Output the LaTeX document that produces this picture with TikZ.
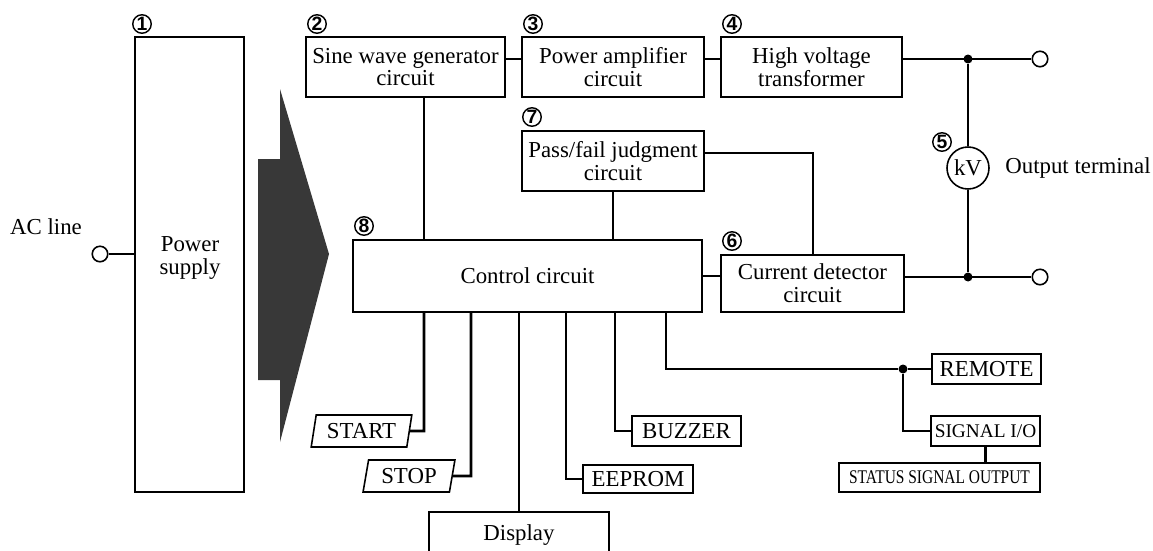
\documentclass[tikz,border=0pt]{standalone}
\usepackage{fontspec}
\setmainfont{Liberation Serif}
\newfontfamily\tagfont{Liberation Sans}
\usepackage{graphicx}
\usetikzlibrary{shapes.geometric, calc}
\tikzset{
  blockbox/.style={
    rectangle, draw=black, line width=0.9pt, fill=white,
    align=center, inner sep=1pt,
    font=\fontsize{13}{13}\selectfont
  },
  keybox/.style={
    trapezium, trapezium left angle=78, trapezium right angle=102,
    trapezium stretches=true, minimum height=0.64cm,
    draw=black, line width=0.9pt, fill=white, inner sep=1pt,
    font=\fontsize{13}{13}\selectfont
  },
  plainlabel/.style={font=\fontsize{13}{13}\selectfont, align=center, inner sep=0pt},
  numtag/.style={circle, draw=black, line width=0.8pt, inner sep=0pt,
    minimum size=0.37cm, font=\tagfont\bfseries\fontsize{11}{11}\selectfont},
  wire/.style={line width=1.5pt},
  jdot/.style={circle, fill=black, inner sep=0pt, minimum size=0.18cm},
  termcirc/.style={circle, draw=black, fill=white, line width=0.9pt,
    inner sep=0pt, minimum size=0.31cm}
}
\begin{document}
\begin{tikzpicture}[x=0.02cm, y=-0.02cm]
  \useasboundingbox (0,0) rectangle (1153,551);

  %% --- power input ---
  \node[blockbox, minimum width=2.18cm, minimum height=9.1cm] (psu) at (189.5,264.5) {};
  \node[plainlabel] (psutext) at (190,258) {Power\\supply};
  \node[termcirc] (acin) at (100,254) {};
  \node[plainlabel] (aclabel) at (46,227) {AC line};
  \fill[black!78] (280,89) -- (329,254) -- (280,442) -- (280,380)
    -- (258,380) -- (258,159) -- (280,159) -- cycle;

  %% --- top row ---
  \node[blockbox, minimum width=3.98cm, minimum height=1.2cm] (sine) at (405.5,67)
    {Sine wave generator\\circuit};
  \node[blockbox, minimum width=3.64cm, minimum height=1.2cm] (amp) at (613,67)
    {Power amplifier\\circuit};
  \node[blockbox, minimum width=3.62cm, minimum height=1.2cm] (hvt) at (811.5,67)
    {High voltage\\transformer};

  %% --- middle ---
  \node[blockbox, minimum width=3.64cm, minimum height=1.2cm] (judge) at (613,161)
    {Pass/fail judgment\\circuit};
  \node[blockbox, minimum width=6.98cm, minimum height=1.44cm] (ctrl) at (527.5,276)
    {Control circuit};
  \node[blockbox, minimum width=3.66cm, minimum height=1.14cm] (curr) at (812.5,283.5)
    {Current detector\\circuit};

  %% --- output side ---
  \node[jdot] (jtop) at (968,59) {};
  \node[jdot] (jbot) at (968,277) {};
  \node[termcirc] (outA) at (1040,59) {};
  \node[termcirc] (outB) at (1040,277) {};
  \node[circle, draw=black, line width=0.9pt, inner sep=0pt, minimum size=0.84cm,
    font=\fontsize{13}{13}\selectfont] (kv) at (968,168) {kV};
  \node[plainlabel, anchor=west] (outlabel) at (1005,168) {Output terminal};

  %% --- peripherals ---
  \node[keybox, minimum width=2.02cm] (start) at (361.5,431) {START};
  \node[keybox, minimum width=1.84cm] (stop) at (409,476) {STOP};
  \node[blockbox, minimum width=3.6cm, minimum height=0.92cm] (display) at (519,535) {Display};
  \node[blockbox, minimum width=2.2cm, minimum height=0.56cm] (eeprom) at (638,479) {EEPROM};
  \node[blockbox, minimum width=2.18cm, minimum height=0.6cm] (buzzer) at (686.5,431) {BUZZER};
  \node[blockbox, minimum width=2.18cm, minimum height=0.6cm] (remote) at (986.5,369) {REMOTE};
  \node[blockbox, minimum width=2.18cm, minimum height=0.6cm,
    font=\fontsize{11}{11}\selectfont] (sigio) at (985.5,431) {SIGNAL I/O};
  \node[blockbox, minimum width=4.02cm, minimum height=0.58cm,
    font=\fontsize{11}{11}\selectfont] (status) at (939.5,477.5)
    {\scalebox{0.8}[1]{STATUS SIGNAL OUTPUT}};
  \node[jdot] (jrem) at (903,369) {};

  %% --- circled numbers ---
  \node[numtag] (n1) at (142,24) {1};
  \node[numtag] (n2) at (317,24) {2};
  \node[numtag] (n3) at (533,24) {3};
  \node[numtag] (n4) at (732,24) {4};
  \node[numtag] (n5) at (942,142) {5};
  \node[numtag] (n6) at (732,241) {6};
  \node[numtag] (n7) at (532,117) {7};
  \node[numtag] (n8) at (364,226) {8};

  %% --- bend points ---
  \coordinate (kStart) at (424,431);
  \coordinate (kStop) at (471,476);
  \coordinate (kEep) at (566,479);
  \coordinate (kBuz) at (615,431);
  \coordinate (kRem) at (666,369);
  \coordinate (kSig) at (903,431);
  \coordinate (kJud) at (813,153);

  %% --- wires ---
  \draw[wire] (acin) -- (acin -| psu.west);
  \draw[wire] (jtop -| sine.east) -- (jtop -| amp.west);
  \draw[wire] (jtop -| amp.east) -- (jtop -| hvt.west);
  \draw[wire] (jtop -| hvt.east) -- (outA);
  \draw[wire] (jtop) -- (kv) -- (jbot);
  \draw[wire] (jbot -| curr.east) -- (outB);
  \draw[wire] (kJud -| judge.east) -- (kJud) -- (kJud |- curr.north);
  \draw[wire] (ctrl.east) -- (ctrl.east -| curr.west);
  \draw[wire] (kStart |- sine.south) -- (kStart |- ctrl.north);
  \draw[wire] (judge.south) -- (judge.south |- ctrl.north);

  \draw[wire] (kStart |- ctrl.south) -- (kStart) -- (start);
  \draw[wire] (kStop |- ctrl.south) -- (kStop) -- (stop);
  \draw[wire] (display.north |- ctrl.south) -- (display.north);
  \draw[wire] (kEep |- ctrl.south) -- (kEep) -- (eeprom);
  \draw[wire] (kBuz |- ctrl.south) -- (kBuz) -- (buzzer);
  \draw[wire] (kRem |- ctrl.south) -- (kRem) -- (jrem) -- (remote);
  \draw[wire] (jrem) -- (kSig) -- (sigio);
  \draw[wire] (sigio.south) -- (sigio.south |- status.north);

\end{tikzpicture}
\end{document}
